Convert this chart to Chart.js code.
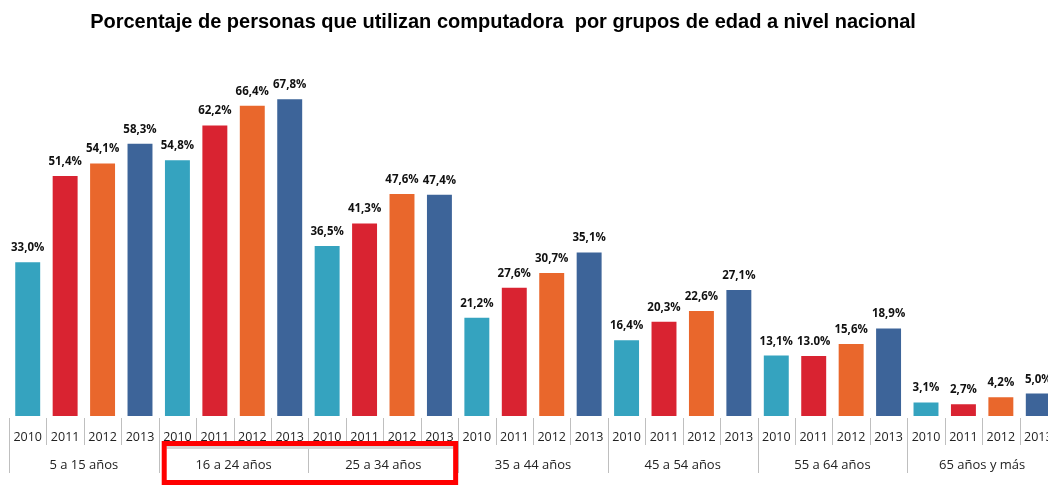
<!DOCTYPE html>
<html>
<head>
<meta charset="utf-8">
<script src="https://cdn.jsdelivr.net/npm/chart.js@4"></script>
<style>
  html, body { margin: 0; padding: 0; overflow: hidden; background: #fff; }
  #chart { display: block; }
</style>
</head>
<body>
<canvas id="chart" width="1060" height="486"></canvas>
<script>
// data
const chartTitle = 'Porcentaje de personas que utilizan computadora  por grupos de edad a nivel nacional';
const groups = ['5 a 15 años', '16 a 24 años', '25 a 34 años', '35 a 44 años', '45 a 54 años', '55 a 64 años', '65 años y más'];
const years = ['2010', '2011', '2012', '2013'];
const v2010 = [33.0, 54.8, 36.5, 21.2, 16.4, 13.1, 3.1];
const v2011 = [51.4, 62.2, 41.3, 27.6, 20.3, 13.0, 2.7];
const v2012 = [54.1, 66.4, 47.6, 30.7, 22.6, 15.6, 4.2];
const v2013 = [58.3, 67.8, 47.4, 35.1, 27.1, 18.9, 5.0];
const dotLabels = [21]; // the source writes "13.0%" with a point

const yearColors = ['#35a3bf', '#d92331', '#e9672c', '#3d6499'];

// flatten groups x years into one row of bars
const series = [v2010, v2011, v2012, v2013];
const labels = [], values = [], colors = [];
groups.forEach((g, gi) => {
    years.forEach((y, yi) => {
        labels.push(y);
        values.push(series[yi][gi]);
        colors.push(yearColors[yi]);
    });
});

function fmt(v, i) {
    const s = v.toFixed(1);
    return (dotLabels.includes(i) ? s : s.replace('.', ',')) + '%';
}

const extras = {
    id: 'extras',
    afterDraw(chart) {
        const ctx = chart.ctx;
        const x = chart.scales.x;
        const base = chart.chartArea.bottom;
        const step = x.getPixelForValue(1) - x.getPixelForValue(0);

        ctx.save();
        // title
        ctx.fillStyle = '#000';
        ctx.font = 'bold 20px "Liberation Sans", Arial, sans-serif';
        ctx.textAlign = 'center';
        ctx.textBaseline = 'alphabetic';
        ctx.fillText(chartTitle, 503, 28);

        // value labels
        const meta = chart.getDatasetMeta(0);
        ctx.font = 'bold 11.5px "Open Sans", sans-serif';
        ctx.fillStyle = '#111';
        meta.data.forEach((bar, i) => {
            ctx.fillText(fmt(values[i], i), bar.x, bar.y - 10);
        });

        // separators under the axis
        ctx.strokeStyle = '#bfbfbf';
        ctx.lineWidth = 1;
        for (let i = 0; i <= labels.length; i++) {
            const px = Math.round(x.getPixelForValue(i) - step / 2) + 0.5;
            const isGroup = i % years.length === 0;
            ctx.beginPath();
            ctx.moveTo(px, base + 2);
            ctx.lineTo(px, isGroup ? base + 57 : base + 29);
            ctx.stroke();
        }

        // group labels
        ctx.font = '13px "Open Sans", sans-serif';
        ctx.fillStyle = '#222';
        ctx.textBaseline = 'middle';
        groups.forEach((g, gi) => {
            const cx = (x.getPixelForValue(gi * 4) + x.getPixelForValue(gi * 4 + 3)) / 2;
            ctx.fillText(g, cx, base + 49);
        });

        // highlight box around 16-24 and 25-34
        const left = x.getPixelForValue(4) - step / 2 + 3;
        const right = x.getPixelForValue(11) + step / 2;
        ctx.fillStyle = '#d6d6d6';
        ctx.fillRect(left + 5, base + 30, right - left - 10, 3);
        ctx.strokeStyle = '#ff0000';
        ctx.lineWidth = 5;
        ctx.strokeRect(left + 2.5, base + 27.5, right - left - 5, 39);
        ctx.restore();
    }
};

new Chart(document.getElementById('chart'), {
    type: 'bar',
    data: {
        labels: labels,
        datasets: [{
            data: values,
            backgroundColor: colors,
            borderColor: 'rgba(255,255,255,0.35)',
            borderWidth: 1,
            barPercentage: 0.72,
            categoryPercentage: 1
        }]
    },
    options: {
        responsive: false,
        animation: false,
        layout: { padding: { top: 41, left: 9, right: 3, bottom: 0 } },
        plugins: {
            legend: { display: false },
            tooltip: { enabled: false }
        },
        scales: {
            x: {
                grid: { display: false },
                border: { display: false },
                ticks: {
                    autoSkip: false,
                    maxRotation: 0,
                    padding: 6,
                    color: '#222',
                    font: { family: '"Open Sans", sans-serif', size: 12.5 }
                },
                afterFit(scale) { scale.height = 70; }
            },
            y: {
                display: false,
                min: 0,
                max: 80
            }
        }
    },
    plugins: [extras]
});
</script>
</body>
</html>
